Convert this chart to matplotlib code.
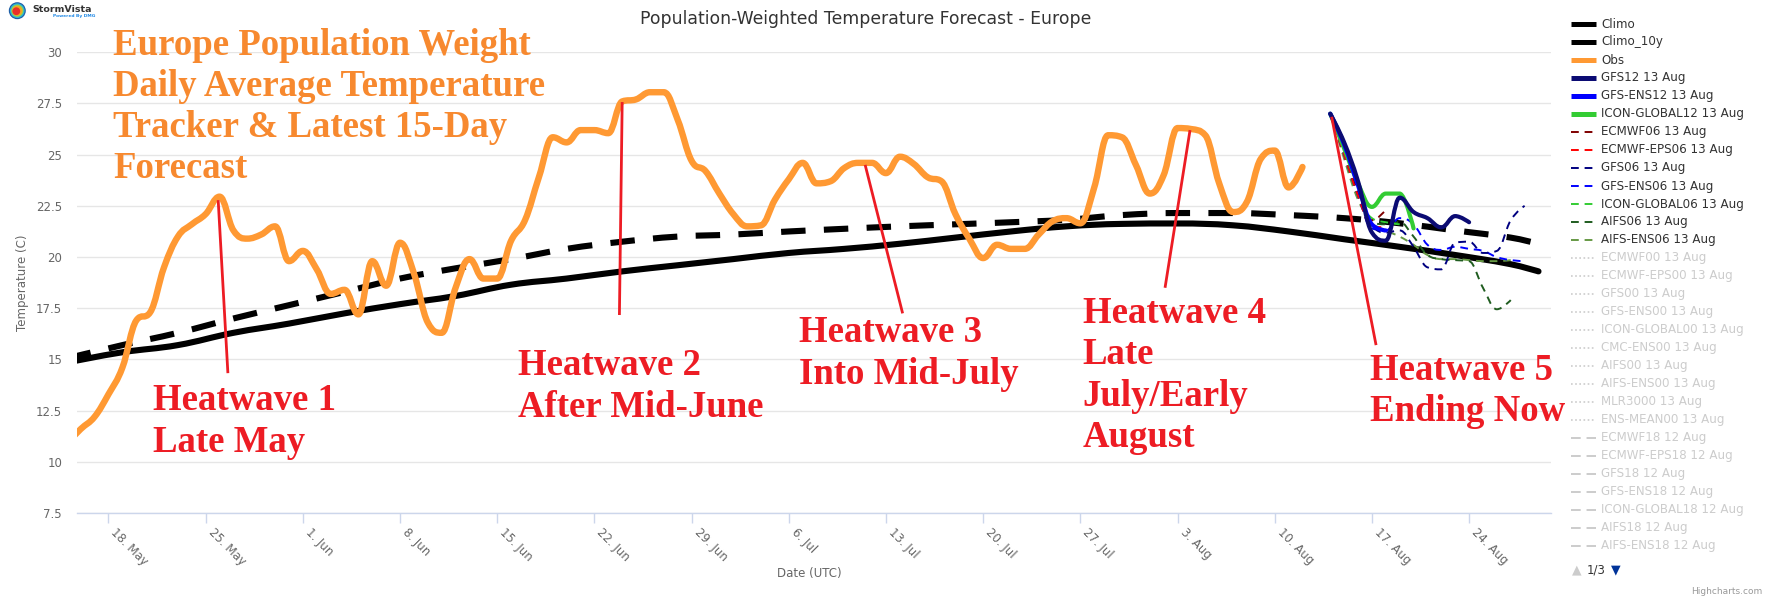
import numpy as np
import pandas as pd
import matplotlib
matplotlib.use("Agg")
import matplotlib.pyplot as plt
import matplotlib.dates as mdates
from matplotlib.path import Path
from matplotlib.patches import PathPatch, Ellipse
from matplotlib.lines import Line2D

# ---------------- data ----------------
obs_start = "2025-05-15"
obs_values = [10.9, 11.6, 12.2, 13.3, 14.6, 16.9, 17.3, 19.5, 21.0, 21.6,
              22.1, 22.95, 21.3, 20.9, 21.1, 21.5, 19.8, 20.3, 19.4, 18.2,
              18.4, 17.2, 19.8, 18.6, 20.7, 19.2, 16.8, 16.3, 18.5, 19.9,
              18.95, 18.95, 20.8, 21.8, 23.9, 25.85, 25.6, 26.2, 26.2, 26.05,
              27.6, 27.7, 28.05, 28.05, 26.7, 24.7, 24.2, 23.1, 22.1, 21.5,
              21.55, 22.8, 23.8, 24.6, 23.6, 23.7, 24.35, 24.6, 24.6, 24.1,
              24.9, 24.55, 23.9, 23.7, 22.1, 20.9, 19.95, 20.6, 20.4, 20.4,
              21.1, 21.75, 21.9, 21.65, 23.4, 25.95, 25.85, 24.5, 23.1, 24.0,
              26.3, 26.25, 25.95, 23.6, 22.2, 22.7, 24.8, 25.2, 23.4, 24.4]

climo_dates = ["2025-05-15", "2025-05-19", "2025-05-23", "2025-05-27", "2025-05-31",
               "2025-06-04", "2025-06-08", "2025-06-12", "2025-06-16", "2025-06-20",
               "2025-06-24", "2025-06-28", "2025-07-02", "2025-07-06", "2025-07-10",
               "2025-07-14", "2025-07-18", "2025-07-22", "2025-07-26", "2025-07-30",
               "2025-08-03", "2025-08-07", "2025-08-11", "2025-08-15", "2025-08-19",
               "2025-08-23", "2025-08-27", "2025-08-29"]
climo_values = [14.85, 15.35, 15.7, 16.3, 16.75, 17.25, 17.7, 18.1, 18.65, 18.95,
                19.3, 19.6, 19.9, 20.2, 20.4, 20.65, 20.95, 21.25, 21.5, 21.62,
                21.64, 21.55, 21.25, 20.87, 20.5, 20.1, 19.65, 19.3]
climo10_values = [15.05, 15.7, 16.3, 17.0, 17.65, 18.3, 18.95, 19.45, 19.9, 20.4,
                  20.75, 21.0, 21.1, 21.25, 21.38, 21.5, 21.6, 21.7, 21.82, 22.05,
                  22.15, 22.15, 22.05, 21.9, 21.65, 21.3, 20.95, 20.65]

fc_start = "2025-08-14"
gfs12 = [27.0, 25.6, 23.7, 21.2, 20.8, 22.9, 22.2, 21.9, 21.45, 22.0, 21.7]
gfsens12 = [27.0, 25.5, 23.5, 21.6, 21.3]
icon12 = [27.0, 25.3, 23.6, 22.45, 23.1, 23.1, 21.4]
ecmwf06 = [27.0, 25.2, 23.3, 21.8, 22.3]
ecmwfeps06 = [27.0, 25.0, 23.0, 21.5, 21.45]
gfs06 = [27.0, 25.2, 23.2, 21.6, 21.2, 21.3, 20.5, 19.5, 19.4, 20.7, 20.75,
         20.2, 20.3, 21.8, 22.5]
gfsens06 = [27.0, 25.0, 23.0, 21.4, 21.3, 21.9, 21.6, 20.6, 20.35, 20.5, 20.4,
            20.3, 20.0, 19.85, 19.8]
icon06 = [27.0, 25.0, 23.0, 21.9, 21.7, 21.6]
aifs06 = [27.0, 25.0, 23.0, 21.7, 21.6, 21.7, 21.0, 20.1, 19.9, 19.85, 19.8,
          18.5, 17.45, 17.9]
aifsens06 = [27.0, 24.8, 22.8, 21.7, 21.3, 21.0, 20.6, 20.1, 19.9, 19.9, 19.85,
             19.8, 19.8, 19.85]

legend_labels = ["Climo", "Climo_10y", "Obs", "GFS12 13 Aug", "GFS-ENS12 13 Aug",
                 "ICON-GLOBAL12 13 Aug", "ECMWF06 13 Aug", "ECMWF-EPS06 13 Aug",
                 "GFS06 13 Aug", "GFS-ENS06 13 Aug", "ICON-GLOBAL06 13 Aug",
                 "AIFS06 13 Aug", "AIFS-ENS06 13 Aug", "ECMWF00 13 Aug",
                 "ECMWF-EPS00 13 Aug", "GFS00 13 Aug", "GFS-ENS00 13 Aug",
                 "ICON-GLOBAL00 13 Aug", "CMC-ENS00 13 Aug", "AIFS00 13 Aug",
                 "AIFS-ENS00 13 Aug", "MLR3000 13 Aug", "ENS-MEAN00 13 Aug",
                 "ECMWF18 12 Aug", "ECMWF-EPS18 12 Aug", "GFS18 12 Aug",
                 "GFS-ENS18 12 Aug", "ICON-GLOBAL18 12 Aug", "AIFS18 12 Aug",
                 "AIFS-ENS18 12 Aug"]

tick_dates = pd.date_range("2025-05-18", "2025-08-24", freq="7D")
tick_labels = [f"{d.day}. {d.strftime('%b')}" for d in tick_dates]

# heatwave pointer lines: (start day offset, start value, end day offset, end value) from 18 May
hw_lines = [(7.9, 22.78, 8.6, 14.33),
            (37.0, 27.57, 36.8, 17.17),
            (54.5, 24.5, 57.2, 17.25),
            (77.9, 26.2, 76.1, 18.5),
            (88.1, 26.85, 91.3, 15.7)]
hw_texts = [["Heatwave 1", "Late May"],
            ["Heatwave 2", "After Mid-June"],
            ["Heatwave 3", "Into Mid-July"],
            ["Heatwave 4", "Late", "July/Early", "August"],
            ["Heatwave 5", "Ending Now"]]
headline = ["Europe Population Weight", "Daily Average Temperature",
            "Tracker & Latest 15-Day", "Forecast"]

# ---------------- helpers ----------------
W, H = 1772, 600
fig = plt.figure(figsize=(W / 100, H / 100), dpi=100)
fig.patch.set_facecolor("white")


def fx(x):
    return x / W


def fy(y):
    return 1 - y / H


def spline_path(xs, ys):
    n = len(xs)
    lc = [None] * n
    rc = [None] * n
    s, d = 1.5, 2.5
    for i in range(n):
        px, py = xs[i], ys[i]
        if i == 0 or i == n - 1:
            lc[i] = (px, py)
            rc[i] = (px, py)
            continue
        lx, ly = xs[i - 1], ys[i - 1]
        nx_, ny_ = xs[i + 1], ys[i + 1]
        lcx = (s * px + lx) / d
        lcy = (s * py + ly) / d
        rcx = (s * px + nx_) / d
        rcy = (s * py + ny_) / d
        corr = 0.0
        if rcx != lcx:
            corr = ((rcy - lcy) * (rcx - px)) / (rcx - lcx) + py - rcy
        lcy += corr
        rcy += corr
        if lcy > ly and lcy > py:
            lcy = max(ly, py)
            rcy = 2 * py - lcy
        elif lcy < ly and lcy < py:
            lcy = min(ly, py)
            rcy = 2 * py - lcy
        if rcy > ny_ and rcy > py:
            rcy = max(ny_, py)
            lcy = 2 * py - rcy
        elif rcy < ny_ and rcy < py:
            rcy = min(ny_, py)
            lcy = 2 * py - rcy
        lc[i] = (lcx, lcy)
        rc[i] = (rcx, rcy)
    verts = [(xs[0], ys[0])]
    codes = [Path.MOVETO]
    for i in range(1, n):
        verts += [rc[i - 1], lc[i], (xs[i], ys[i])]
        codes += [Path.CURVE4] * 3
    return Path(verts, codes)


def draw_series(ax, dates, values, color, lw, ls="-", cap="round", z=2):
    xs = list(mdates.date2num(pd.to_datetime(dates)))
    ys = list(values)
    path = spline_path(xs, ys)
    ax.add_patch(PathPatch(path, fill=False, edgecolor=color, lw=lw, linestyle=ls,
                           capstyle=cap, joinstyle="round", zorder=z))


# ---------------- axes ----------------
ax = fig.add_axes([fx(76.7), fy(513), fx(1551) - fx(76.7), fy(52.3) - fy(513)])
base = mdates.date2num(pd.Timestamp("2025-05-18"))
ax.set_xlim(base - 2.29, base + 103.9)
ax.set_ylim(7.5, 30)
for sp in ["top", "right", "left"]:
    ax.spines[sp].set_visible(False)
ax.spines["bottom"].set_color("#ccd6eb")
ax.spines["bottom"].set_linewidth(1)
ax.set_yticks(np.arange(7.5, 30.01, 2.5))
ax.set_yticklabels([f"{v:g}" for v in np.arange(7.5, 30.01, 2.5)])
ax.grid(axis="y", color="#e6e6e6", lw=1)
ax.set_axisbelow(True)
ax.tick_params(axis="y", length=0, pad=10.5, labelsize=8.5, labelcolor="#666666")
ax.set_xticks(mdates.date2num(tick_dates))
ax.set_xticklabels(tick_labels, rotation=-45, ha="left", va="top",
                   rotation_mode="default")
ax.tick_params(axis="x", length=7, width=1, color="#ccd6eb", pad=2.5,
               labelsize=8.5, labelcolor="#666666")

# climatology and observations
obs_dates = pd.date_range(obs_start, periods=len(obs_values))
draw_series(ax, climo_dates, climo_values, "black", 4.4, z=2)
draw_series(ax, climo_dates, climo10_values, "black", 4.4, ls=(0, (4, 3)), cap="butt", z=2)
draw_series(ax, obs_dates, obs_values, "#ff9933", 4.6, z=3)


def fdates(vals):
    return pd.date_range(fc_start, periods=len(vals))


thin = 1.4
dash = (0, (4, 3))
draw_series(ax, fdates(aifsens06), aifsens06, "#669944", thin, dash, cap="butt", z=4)
draw_series(ax, fdates(aifs06), aifs06, "#1f5c1f", thin, dash, cap="butt", z=4)
draw_series(ax, fdates(icon06), icon06, "#33cc33", thin, dash, cap="butt", z=4)
draw_series(ax, fdates(gfsens06), gfsens06, "#0000ff", thin, dash, cap="butt", z=4)
draw_series(ax, fdates(gfs06), gfs06, "#000080", thin, dash, cap="butt", z=4)
draw_series(ax, fdates(ecmwfeps06), ecmwfeps06, "#ff0000", thin, dash, cap="butt", z=4)
draw_series(ax, fdates(ecmwf06), ecmwf06, "#800000", thin, dash, cap="butt", z=4)
draw_series(ax, fdates(icon12), icon12, "#33cc33", 3.0, z=5)
draw_series(ax, fdates(gfsens12), gfsens12, "#0000ff", 3.0, z=5)
draw_series(ax, fdates(gfs12), gfs12, "#0b0b73", 3.0, z=5)

# heatwave pointer lines
for (d0, v0, d1, v1) in hw_lines:
    ax.plot([base + d0, base + d1], [v0, v1], color="#ed1c24", lw=2.0,
            solid_capstyle="butt", zorder=10)

# ---------------- texts ----------------
fig.text(fx(866), fy(19), "Population-Weighted Temperature Forecast - Europe",
         ha="center", va="center", fontsize=12.4, color="#333333", family="DejaVu Sans")
fig.text(fx(23), fy(283), "Temperature (C)", rotation=90, ha="center", va="center",
         fontsize=8.5, color="#666666")
fig.text(fx(809), fy(574), "Date (UTC)", ha="center", va="center",
         fontsize=8.5, color="#666666")

serif = "Liberation Serif"


def stack(x, y0, lines, color, step, size=26.5):
    for k, t in enumerate(lines):
        fig.text(fx(x), fy(y0 + k * step), t, ha="left", va="baseline",
                 fontsize=size, color=color, family=serif, fontweight="bold", zorder=20)


stack(113.3, 55, headline, "#f7892f", 41)
stack(153.3, 410, hw_texts[0], "#ed1c24", 42)
stack(518.3, 375, hw_texts[1], "#ed1c24", 42)
stack(799, 342, hw_texts[2], "#ed1c24", 42)
stack(1082.7, 323.3, hw_texts[3], "#ed1c24", 41.2)
stack(1369.5, 380, hw_texts[4], "#ed1c24", 41)

# ---------------- legend ----------------
leg_styles = ([("black", 3.6, "-"), ("black", 3.6, "-"), ("#ff9933", 3.6, "-"),
               ("#0b0b73", 3.6, "-"), ("#0000ff", 3.6, "-"), ("#33cc33", 3.6, "-")] +
              [(c, 1.4, (0, (4, 3))) for c in ["#800000", "#ff0000", "#000080", "#0000ff",
                                                 "#33cc33", "#1f5c1f", "#669944"]] +
              [("#cccccc", 1.2, (0, (1, 1.5)))] * 10 +
              [("#cccccc", 1.4, (0, (5, 3)))] * 7)
for i, (lab, (c, lw, ls)) in enumerate(zip(legend_labels, leg_styles)):
    y = 24 + 18 * i
    fig.add_artist(Line2D([fx(1571), fx(1596)], [fy(y), fy(y)], color=c, lw=lw,
                          linestyle=ls, solid_capstyle="butt", dash_capstyle="butt"))
    tc = "#333333" if i < 13 else "#cccccc"
    fig.text(fx(1601), fy(y), lab, ha="left", va="center", fontsize=8.6, color=tc)

fig.text(fx(1577), fy(570), "\u25B2", ha="center", va="center", fontsize=9, color="#cccccc")
fig.text(fx(1587), fy(570), "1/3", ha="left", va="center", fontsize=8.5, color="#333333")
fig.text(fx(1616), fy(570), "\u25BC", ha="center", va="center", fontsize=9, color="#003399")
fig.text(fx(1762), fy(592), "Highcharts.com", ha="right", va="center", fontsize=6.5,
         color="#999999")

# ---------------- logo ----------------
def disc(cx, cy, r, c, z):
    fig.add_artist(Ellipse((fx(cx), fy(cy)), 2 * r / W, 2 * r / H,
                           transform=fig.transFigure, color=c, zorder=z))


for r, c in [(7.8, "#1f5fa8"), (6.6, "#29b6d8"), (5.4, "#9bd34a"), (4.3, "#f5a623")]:
    disc(17.3, 10.7, r, c, 30)
disc(16.3, 11.2, 3.2, "#e8302a", 31)
fig.text(fx(32), fy(10), "StormVista", ha="left", va="center", fontsize=6.8,
         fontweight="bold", color="#333333", family="DejaVu Sans")
fig.text(fx(53), fy(16.5), "Powered By DMG", ha="left", va="center", fontsize=3.2,
         color="#1e88e5", fontweight="bold")

fig.savefig("out.png", dpi=100, facecolor="white")
